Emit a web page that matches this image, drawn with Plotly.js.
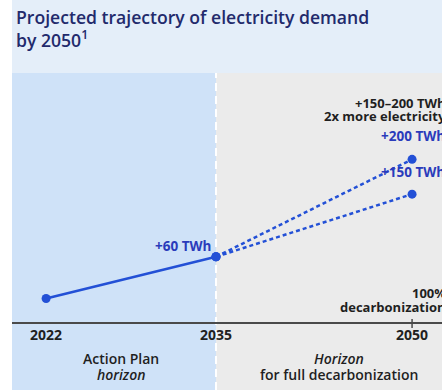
<!DOCTYPE html>
<html>
<head>
<meta charset="utf-8">
<script src="https://cdn.plot.ly/plotly-3.0.1.min.js"></script>
<style>
  html, body { margin: 0; padding: 0; background: #ffffff; }
  #chart { width: 442px; height: 392px; }
</style>
</head>
<body>
<div id="chart"></div>
<script>
// ---- Data ----
const years = [2022, 2035, 2050];
const yearLabels = ["2022", "2035", "2050"];
// Increase of electricity demand relative to 2022 (TWh)
const actionPlanYears = [2022, 2035];
const actionPlanIncrease = [0, 60];
const highScenarioYears = [2035, 2050];
const highScenarioIncrease = [60, 200];
const lowScenarioYears = [2035, 2050];
const lowScenarioIncrease = [60, 150];
const pointLabels = ["+60 TWh", "+200 TWh", "+150 TWh"];
const zoneBoundaryYear = 2035;

// ---- Style ----
const FONT = "Open Sans, Noto Sans, sans-serif";
const BLUE = "#2350d6";
const BLUE_TEXT = "#2a3bbb";
const DARK = "#1f1f1f";
const xRange = [2019.39, 2052.29];
const plotH = 249;
const py = (pix) => 1 - (pix - 73) / plotH; // paper y from a pixel row

const traces = [
  {
    x: actionPlanYears, y: actionPlanIncrease, type: "scatter", mode: "lines+markers",
    line: { color: BLUE, width: 2.5 }, marker: { color: BLUE, size: 9 },
    hoverinfo: "skip", showlegend: false
  },
  {
    x: highScenarioYears, y: highScenarioIncrease, type: "scatter", mode: "lines+markers",
    line: { color: BLUE, width: 2.5, dash: "4px,3px" }, marker: { color: BLUE, size: 9 },
    hoverinfo: "skip", showlegend: false
  },
  {
    x: lowScenarioYears, y: lowScenarioIncrease, type: "scatter", mode: "lines+markers",
    line: { color: BLUE, width: 2.5, dash: "4px,3px" }, marker: { color: BLUE, size: 9 },
    hoverinfo: "skip", showlegend: false
  }
];

const shapes = [
  { type: "rect", layer: "below", xref: "paper", yref: "paper", x0: 0, x1: 1, y0: 1, y1: py(0),
    fillcolor: "#e4eef9", line: { width: 0 } },
  { type: "rect", layer: "below", xref: "x", yref: "paper", x0: xRange[0], x1: zoneBoundaryYear,
    y0: py(390), y1: 1, fillcolor: "#cfe2f8", line: { width: 0 } },
  { type: "rect", layer: "below", xref: "x", yref: "paper", x0: zoneBoundaryYear, x1: xRange[1],
    y0: py(390), y1: 1, fillcolor: "#ebebeb", line: { width: 0 } },
  { type: "line", layer: "below", xref: "x", yref: "paper", x0: zoneBoundaryYear, x1: zoneBoundaryYear,
    y0: py(390), y1: 1, line: { color: "#ffffff", width: 2, dash: "8px,5px" } },
  { type: "line", layer: "above", xref: "x", yref: "paper", x0: years[2], x1: years[2],
    y0: py(328), y1: py(319), line: { color: "#4a4a4a", width: 1.5 } }
];

function txt(x, xref, y, text, xanchor, size, color, weight, extra) {
  return Object.assign({
    x: x, y: y, xref: xref, yref: "paper", text: text, showarrow: false,
    xanchor: xanchor, yanchor: "middle",
    font: { family: FONT, size: size, color: color, weight: weight }
  }, extra || {});
}

const annotations = [
  { x: actionPlanYears[1], y: actionPlanIncrease[1], xref: "x", yref: "y", text: pointLabels[0],
    showarrow: false, xanchor: "right", yanchor: "middle", xshift: -3, yshift: 11,
    font: { family: FONT, size: 13.5, color: BLUE_TEXT, weight: 700 } },
  { x: highScenarioYears[1], y: highScenarioIncrease[1], xref: "x", yref: "y", text: pointLabels[1],
    showarrow: false, xanchor: "left", yanchor: "middle", xshift: -33, yshift: 23,
    font: { family: FONT, size: 13.5, color: BLUE_TEXT, weight: 700 } },
  { x: lowScenarioYears[1], y: lowScenarioIncrease[1], xref: "x", yref: "y", text: pointLabels[2],
    showarrow: false, xanchor: "left", yanchor: "middle", xshift: -33, yshift: 22,
    font: { family: FONT, size: 13.5, color: BLUE_TEXT, weight: 700 } },
  txt(1.015, "paper", py(103), "+150–200 TWh", "right", 13, DARK, 700),
  txt(1.015, "paper", py(116.5), "2x more electricity", "right", 13, DARK, 700),
  txt(1.015, "paper", py(293), "100%", "right", 13, DARK, 700),
  txt(1.015, "paper", py(306.5), "decarbonization", "right", 13, DARK, 700),
  txt(2027.7, "x", py(358), "Action Plan", "center", 14, DARK, 600),
  txt(2027.7, "x", py(374), "<i>horizon</i>", "center", 14, DARK, 600),
  txt(2044.4, "x", py(358), "<i>Horizon</i>", "center", 14, DARK, 600),
  txt(2044.4, "x", py(374), "for full decarbonization", "center", 14, DARK, 600),
  // chart title
  { x: 2 / 430, y: py(3), xref: "paper", yref: "paper", xanchor: "left", yanchor: "top",
    align: "left", showarrow: false,
    text: "Projected trajectory of electricity demand<br>by 2050<sup>1</sup>",
    font: { family: FONT, size: 17.6, color: "#222a6c", weight: 600 } }
];

const layout = {
  width: 442, height: 392,
  margin: { l: 12, r: 0, t: 73, b: 70, pad: 0 },
  paper_bgcolor: "#ffffff",
  plot_bgcolor: "rgba(0,0,0,0)",
  xaxis: {
    range: xRange, showgrid: false, zeroline: false,
    showline: true, linecolor: "#4a4a4a", linewidth: 1.5,
    tickmode: "array", tickvals: years, ticktext: yearLabels, ticks: "",
    tickfont: { family: FONT, size: 14, color: DARK, weight: 700 },
    fixedrange: true
  },
  yaxis: {
    range: [-33.7, 324.1], showgrid: false, zeroline: false, showline: false,
    showticklabels: false, ticks: "", fixedrange: true
  },
  shapes: shapes,
  annotations: annotations,
  showlegend: false
};

Plotly.newPlot("chart", traces, layout, { displayModeBar: false, staticPlot: true });
</script>
</body>
</html>
